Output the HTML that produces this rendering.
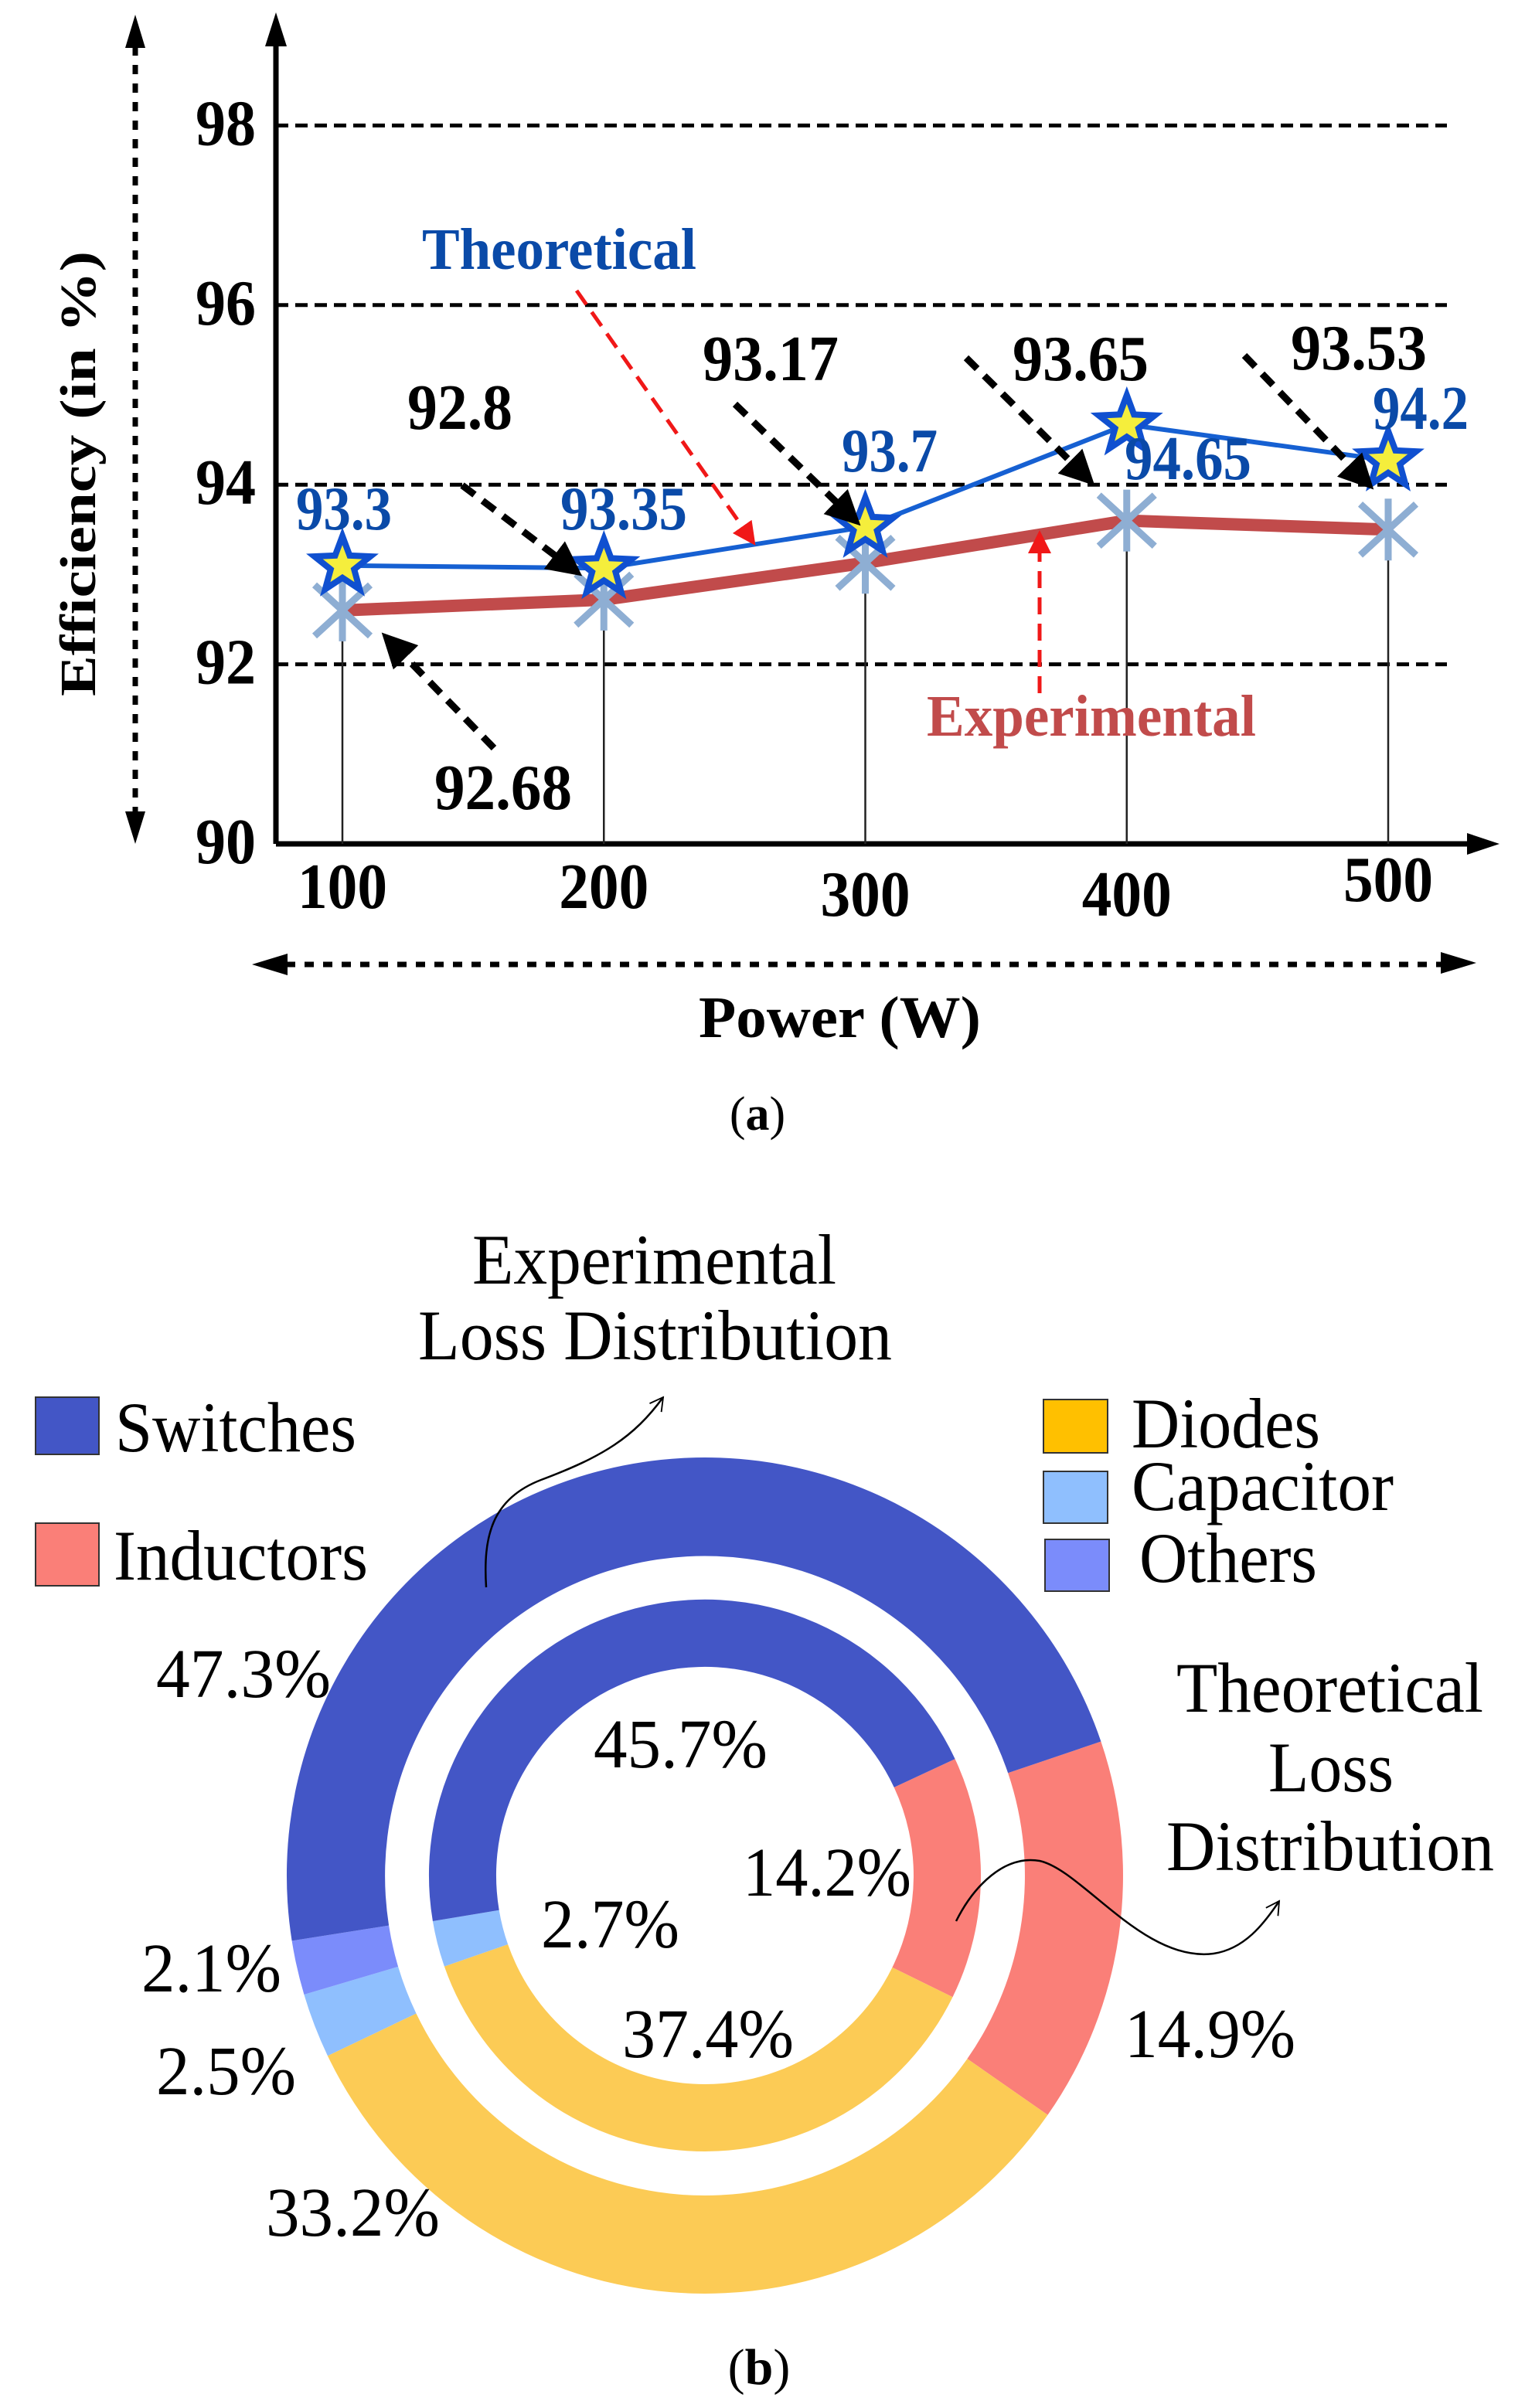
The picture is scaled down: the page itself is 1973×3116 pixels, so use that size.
<!DOCTYPE html>
<html><head><meta charset="utf-8"><style>
html,body{margin:0;padding:0;background:#fff}
svg{display:block}
text{font-family:"Liberation Serif",serif}
</style></head><body>
<svg id="fig" width="1973" height="3116" viewBox="0 0 1973 3116" xmlns="http://www.w3.org/2000/svg" font-family="Liberation Serif, serif">
<defs>
<marker id="ab" viewBox="0 0 10 10" refX="8" refY="5" markerWidth="5" markerHeight="5" orient="auto"><path d="M0,0 L10,5 L0,10 z" fill="#000"/></marker>
<marker id="ar" viewBox="0 0 10 10" refX="8" refY="5" markerWidth="6" markerHeight="6" orient="auto"><path d="M0,0 L10,5 L0,10 z" fill="#f01818"/></marker>
<marker id="at" viewBox="0 0 12 12" refX="10" refY="6" markerWidth="9" markerHeight="9" orient="auto"><path d="M1,1 L10,6 L1,11" fill="none" stroke="#000" stroke-width="1"/></marker>
</defs>
<g id="chartA"></g>
<g id="chartB"></g>
</svg>
<script>
const NS='http://www.w3.org/2000/svg';
const categories=[100,200,300,400,500];
const theoretical=[93.1,93.07,93.53,94.67,94.27];
const experimental=[92.6,92.72,93.13,93.6,93.5];
const theoLabels=['93.3','93.35','93.7','94.65','94.2'];
const expLabels=['92.68','92.8','93.17','93.65','93.53'];
const yTicks=[90,92,94,96,98];

const outerVals=[14.9,33.2,2.5,2.1,47.3];
const innerVals=[14.2,37.4,2.7,0.0,45.7];
const sliceNames=['inductors','diodes','capacitor','others','switches'];
const sliceColors=['#fa7f78','#fccb55','#8fbffe','#7b8cfb','#4356c6'];

function el(tag,attrs,parent,txt){const e=document.createElementNS(NS,tag);for(const k in attrs)e.setAttribute(k,attrs[k]);if(txt!==undefined)e.textContent=txt;parent.appendChild(e);return e;}

// ---------- Chart (a)
const A=document.getElementById('chartA');
const X=v=>443+(v-100)*3.3825;
const Y=v=>1092-(v-90)*116.2;
yTicks.forEach(t=>{
 if(t>90){const g=el('line',{x1:357,x2:1872,y1:Y(t),y2:Y(t),stroke:'#000','stroke-width':5,'stroke-dasharray':'16 9'},A);
 }
 const tl=el('text',{x:331,y:Y(t)+25,'text-anchor':'end','font-size':84,'font-weight':'bold',textLength:78,lengthAdjust:'spacingAndGlyphs'},A,String(t));
 
});
let ax=el('path',{d:'M357,1092 L357,40 M357,1092 L1905,1092',stroke:'#000','stroke-width':7,fill:'none'},A);

el('path',{d:'M357,16 L343,60 L371,60 z',fill:'#000'},A);
el('path',{d:'M1940,1092 L1898,1078 L1898,1106 z',fill:'#000'},A);
const xlabY=[1175,1175,1185,1185,1166];
categories.forEach((c,i)=>{
 const t=el('text',{x:X(c),y:xlabY[i],'text-anchor':'middle','font-size':84,'font-weight':'bold',textLength:116,lengthAdjust:'spacingAndGlyphs'},A,String(c));
 
 el('line',{x1:X(c),x2:X(c),y1:Y(experimental[i]),y2:1092,stroke:'#222','stroke-width':2.5},A);
});
let ep=el('polyline',{points:categories.map((c,i)=>X(c)+','+Y(experimental[i])).join(' '),fill:'none',stroke:'#c14b4b','stroke-width':16,'stroke-linejoin':'round'},A);

categories.forEach((c,i)=>{const x=X(c),y=Y(experimental[i]);
 const m=el('path',{d:`M${x-36},${y-33} L${x+36},${y+33} M${x-36},${y+33} L${x+36},${y-33} M${x},${y-40} L${x},${y+40}`,stroke:'#8eaed3','stroke-width':9},A);
 
});
let tp=el('polyline',{points:categories.map((c,i)=>X(c)+','+Y(theoretical[i])).join(' '),fill:'none',stroke:'#1660d2','stroke-width':6},A);

function star(x,y,r){let p=[];for(let k=0;k<10;k++){const rr=k%2?r*0.42:r;const a=-Math.PI/2+k*Math.PI/5;p.push((x+rr*Math.cos(a)).toFixed(1)+','+(y+rr*Math.sin(a)).toFixed(1));}return p.join(' ');}
categories.forEach((c,i)=>{const x=X(c),y=Y(theoretical[i]);
 const s=el('polygon',{points:star(x,y,38),fill:'#f5ee3c',stroke:'#1050d0','stroke-width':8,'stroke-linejoin':'miter'},A);
 
});
const theoPos=[[445,685,124],[807,685,164],[1151,610,124],[1537,620,164],[1838,555,124]];
theoLabels.forEach((l,i)=>{const t=el('text',{x:theoPos[i][0],y:theoPos[i][1],'text-anchor':'middle','font-size':80,'font-weight':'bold',fill:'#0a4aa8',textLength:theoPos[i][2],lengthAdjust:'spacingAndGlyphs'},A,l);
 });
const expPos=[[651,1047,178],[595,555,136],[997,492,176],[1398,492,176],[1758,478,176]];
expLabels.forEach((l,i)=>{const t=el('text',{x:expPos[i][0],y:expPos[i][1],'text-anchor':'middle','font-size':84,'font-weight':'bold',textLength:expPos[i][2],lengthAdjust:'spacingAndGlyphs'},A,l);
 });
[[639,968,500,825],[598,628,746,740],[951,523,1107,674],[1250,463,1410,622],[1610,460,1771,627]].forEach(a=>{
 const l=el('line',{x1:a[0],y1:a[1],x2:a[2],y2:a[3],stroke:'#000','stroke-width':9,'stroke-dasharray':'20 13','marker-end':'url(#ab)'},A);
 });
[[746,376,974,701],[1345,897,1345,692]].forEach(a=>{
 const l=el('line',{x1:a[0],y1:a[1],x2:a[2],y2:a[3],stroke:'#f01818','stroke-width':5,'stroke-dasharray':'22 12','marker-end':'url(#ar)'},A);
 });
let tt=el('text',{x:546,y:348,'font-size':76,'font-weight':'bold',fill:'#0a4aa8',textLength:355,lengthAdjust:'spacingAndGlyphs'},A,'Theoretical');

let et=el('text',{x:1199,y:952,'font-size':76,'font-weight':'bold',fill:'#c14b4b',textLength:426,lengthAdjust:'spacingAndGlyphs'},A,'Experimental');

el('line',{x1:175,y1:60,x2:175,y2:1055,stroke:'#000','stroke-width':7,'stroke-dasharray':'12 12'},A);
el('path',{d:'M175,19 L162,62 L188,62 z M175,1092 L162,1050 L188,1050 z',fill:'#000'},A);
el('line',{x1:370,y1:1248,x2:1870,y2:1248,stroke:'#000','stroke-width':7,'stroke-dasharray':'12 12'},A);
el('path',{d:'M326,1248 L372,1234 L372,1262 z M1910,1246 L1864,1232 L1864,1260 z',fill:'#000'},A);
let yt=el('text',{x:0,y:0,transform:'translate(123,613) rotate(-90)','text-anchor':'middle','font-size':66,'font-weight':'bold',textLength:576,lengthAdjust:'spacingAndGlyphs'},A,'Efficiency (in %)');

let xt=el('text',{x:904,y:1342,'font-size':76,'font-weight':'bold',textLength:365,lengthAdjust:'spacingAndGlyphs'},A,'Power (W)');

let ca=el('text',{x:980,y:1462,'text-anchor':'middle','font-size':62},A,'');
ca.innerHTML='(<tspan font-weight="bold">a</tspan>)';


// ---------- Chart (b)
const B=document.getElementById('chartB');
const cx=912,cy=2427;
function arc(r0,r1,a0,a1){const rad=d=>d*Math.PI/180;const p=(r,a)=>(cx+r*Math.cos(rad(a))).toFixed(1)+','+(cy+r*Math.sin(rad(a))).toFixed(1);
 const lg=(a1-a0)>180?1:0;return `M${p(r1,a0)} A${r1},${r1} 0 ${lg} 1 ${p(r1,a1)} L${p(r0,a1)} A${r0},${r0} 0 ${lg} 0 ${p(r0,a0)} Z`;}
function ring(vals,r0,r1,start,name){let a=start;vals.forEach((v,i)=>{if(v<=0)return;const sw=v/100*360;
 const s=el('path',{d:arc(r0,r1,a,a+sw),fill:sliceColors[i]},B);
 a+=sw;});}
ring(outerVals,414,541,-18.7,'outer-slice');
ring(innerVals,270,357,-25,'inner-slice');
const leg=[['switches','Switches',46,1808,128,1882,149,1878,312],['inductors','Inductors',46,1971,128,2052,147,2044,329],
['diodes','Diodes',1350,1811,1433,1880,1464,1873,244],['capacitor','Capacitor',1350,1904,1433,1971,1464,1954,339],['others','Others',1352,1992,1435,2059,1474,2047,230]];
const legColor={switches:'#4356c6',inductors:'#fa7f78',diodes:'#ffc000',capacitor:'#8fbffe',others:'#7b8cfb'};
leg.forEach(l=>{const r=el('rect',{x:l[2],y:l[3],width:l[4]-l[2],height:l[5]-l[3],fill:legColor[l[0]],stroke:'#333','stroke-width':2},B);
 
 const t=el('text',{x:l[6],y:l[7],'font-size':92,textLength:l[8],lengthAdjust:'spacingAndGlyphs'},B,l[1]);
 });
[['Experimental',611,1661,471],['Loss Distribution',541,1759,613],['Theoretical',1522,2215,397],['Loss',1641,2318,162],['Distribution',1509,2420,424]].forEach(t=>{
 const e=el('text',{x:t[1],y:t[2],'font-size':92,textLength:t[3],lengthAdjust:'spacingAndGlyphs'},B,t[0]);
 });
[['47.3%',202,2196,226],['45.7%',768,2287,225],['14.2%',961,2453,218],['2.7%',700,2520,179],['2.1%',183,2577,181],['2.5%',202,2710,181],['37.4%',805,2662,222],['14.9%',1455,2662,221],['33.2%',344,2893,225]].forEach(t=>{
 const e=el('text',{x:t[1],y:t[2],'font-size':90,textLength:t[3],lengthAdjust:'spacingAndGlyphs'},B,t[0]);
 });
let c1=el('path',{d:'M629,2054 C625,1990 635,1940 700,1915 C780,1885 820,1860 858,1808',fill:'none',stroke:'#000','stroke-width':2.5,'marker-end':'url(#at)'},B);

let c2=el('path',{d:'M1237,2486 C1260,2440 1300,2400 1345,2408 C1400,2420 1480,2540 1570,2528 C1610,2522 1635,2490 1655,2460',fill:'none',stroke:'#000','stroke-width':2.5,'marker-end':'url(#at)'},B);

let cb=el('text',{x:982,y:3085,'text-anchor':'middle','font-size':66},B,'');
cb.innerHTML='(<tspan font-weight="bold">b</tspan>)';

</script>
</body></html>
